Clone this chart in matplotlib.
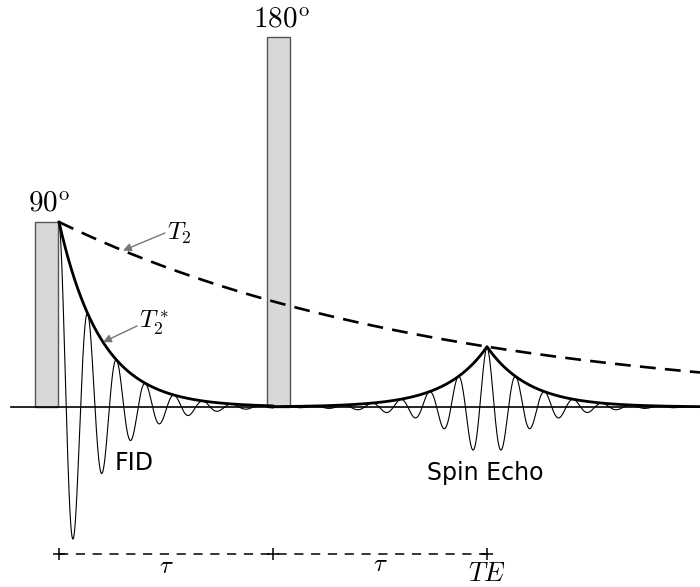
import numpy as np
import matplotlib
matplotlib.use("Agg")
import matplotlib.pyplot as plt
from matplotlib.patches import Rectangle

plt.rcParams['mathtext.fontset'] = 'cm'

# ---- model parameters (time and amplitude in arbitrary diagram units) ----
A0 = 185.0          # initial magnetisation after 90 pulse
T2 = 382.0          # true T2 decay constant
T2_star = 42.0      # T2* decay constant
period = 28.8       # oscillation period of the FID / echo
tau = 214.0         # pulse spacing
t_end = 641.0       # end of time axis
t_start = -48.0     # start of baseline

# pulses: [left edge, width, height]
pulse_left = [-24.0, 208.0]
pulse_width = [23.0, 23.0]
pulse_height = [185.0, 370.0]
pulse_labels = [r'$90^{\mathrm{o}}$', r'$180^{\mathrm{o}}$']

# timing bar
timing_ticks = [0.0, tau, 2 * tau]
timing_labels = [r'$\tau$', r'$\tau$', r'$TE$']

t = np.linspace(0, t_end, 8000)
omega = 2 * np.pi / period
TE = 2 * tau
A_echo = A0 * np.exp(-TE / T2)

fid_env = A0 * np.exp(-t / T2_star)
echo_env = A_echo * np.exp(-np.abs(t - TE) / T2_star)
env = np.where(t < tau, fid_env, echo_env)
signal = np.where(t < tau, fid_env * np.cos(omega * t),
                  echo_env * np.cos(omega * (t - TE)))
t2_curve = A0 * np.exp(-t / T2)

fig = plt.figure(figsize=(7, 5.87), dpi=100)
ax = fig.add_axes([0, 0, 1, 1])
ax.set_xlim(-59, 641)
ax.set_ylim(-180, 407)
ax.axis('off')

# pulses
for left, w, h, lab in zip(pulse_left, pulse_width, pulse_height, pulse_labels):
    ax.add_patch(Rectangle((left, 0), w, h, facecolor='#d8d8d8',
                           edgecolor='#555555', lw=1.0, zorder=1))
    ax.text(left + w / 2 + 3, h + 10, lab, ha='center', va='baseline',
            fontsize=21, zorder=5)

# baseline
ax.plot([t_start, t_end], [0, 0], color='black', lw=1.2, zorder=2)

# oscillating signal
ax.plot(t, signal, color='black', lw=0.8, zorder=3)

# envelope
ax.plot(t, env, color='black', lw=2.0, zorder=4)

# T2 decay
ax.plot(t, t2_curve, color='black', lw=1.9, ls=(0, (6, 3.5)), zorder=4)

# annotations T2 and T2*
arrow_kw = dict(arrowstyle='-|>', color='#777777', lw=1.0,
                mutation_scale=12, shrinkA=0, shrinkB=0)
tip1 = 64.0
ax.annotate('', xy=(tip1, A0 * np.exp(-tip1 / T2)), xytext=(106, 174),
            arrowprops=arrow_kw, zorder=6)
ax.text(108, 174, r'$T_2$', ha='left', va='center', fontsize=18)
tip2 = 44.0
ax.annotate('', xy=(tip2, A0 * np.exp(-tip2 / T2_star)), xytext=(78, 81),
            arrowprops=arrow_kw, zorder=6)
ax.text(80, 84, r'$T_2^*$', ha='left', va='center', fontsize=18)

# text labels
ax.text(56, -63, 'FID', ha='left', va='baseline', fontsize=17,
        family='DejaVu Sans')
ax.text(368, -73, 'Spin Echo', ha='left', va='baseline', fontsize=17,
        family='DejaVu Sans')

# timing bar
ybar = -147
ax.plot([timing_ticks[0], timing_ticks[-1]], [ybar, ybar], color='black',
        lw=1.1, ls=(0, (6, 5)))
ax.plot(timing_ticks, [ybar] * len(timing_ticks), ls='none', marker='+',
        ms=8, mew=1.1, color='black')
ax.text((timing_ticks[0] + timing_ticks[1]) / 2, -159, timing_labels[0],
        ha='center', va='center', fontsize=18)
ax.text((timing_ticks[1] + timing_ticks[2]) / 2, -157, timing_labels[1],
        ha='center', va='center', fontsize=18)
ax.text(timing_ticks[2], -167, timing_labels[2], ha='center', va='center',
        fontsize=19)

fig.savefig('out.png', dpi=100)
